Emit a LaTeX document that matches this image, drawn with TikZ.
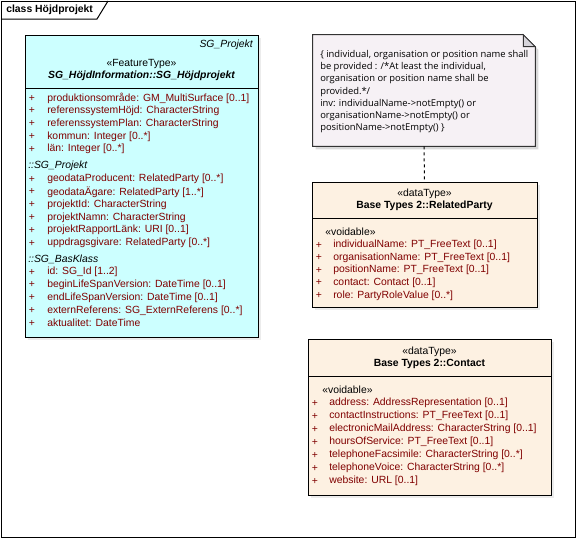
\documentclass[tikz,border=0pt]{standalone}
\usepackage{fontspec}
\setmainfont{Liberation Sans}
\newfontfamily\notefont{Open Sans}
\usepackage{tikz}
\usetikzlibrary{positioning,calc,fit,shadows}

\definecolor{featfill}{HTML}{CCFFFF}
\definecolor{dtfill}{HTML}{FDF1E2}
\definecolor{notefill}{HTML}{F6F1F5}
\definecolor{attrred}{HTML}{800000}
\definecolor{foldgray}{HTML}{D6D4DA}

\begin{document}
\begin{tikzpicture}[
    x=0.75pt, y=-0.75pt,
    font=\fontsize{7.8}{9}\selectfont,
    cls/.style={
        draw=black,
        line width=0.75pt,
        inner sep=0pt,
        drop shadow={shadow xshift=2.25pt, shadow yshift=-2.25pt, opacity=0.15}
    },
    feat/.style={cls, fill=featfill},
    dtype/.style={cls, fill=dtfill},
    hdr/.style={inner sep=0pt},
    attr/.style={anchor=west, inner sep=0pt, text=attrred},
    plus/.style={inner sep=0pt, text=attrred},
    grp/.style={anchor=west, inner sep=0pt, font=\fontsize{7.8}{9}\selectfont\itshape},
    sep/.style={line width=0.75pt}
]
\useasboundingbox (0,0) rectangle (577,540);

% frame
\draw[line width=0.75pt] (1,1) rectangle (575.5,537.5);
\draw[line width=0.75pt] (1,19) -- (97,19) -- (108,1);
\node[anchor=west, inner sep=0pt, font=\fontsize{7.8}{9}\selectfont\bfseries] (title) at (6,10) {class Höjdprojekt};

% feature type
\node[feat, fit={(25,35) (258,337)}] (hojd) {};
\node[hdr, anchor=east, font=\fontsize{7.8}{9}\selectfont\itshape] (hojdpkg) at (253,45) {SG\_Projekt};
\node[hdr] (hojdst) at (141.5,64) {«FeatureType»};
\node[hdr, font=\fontsize{7.8}{9}\selectfont\bfseries\itshape] (hojdname) at (141.5,76) {SG\_HöjdInformation::SG\_Höjdprojekt};
\draw[sep] (25,88) -- (258,88);
\foreach \txt [count=\i from 0] in {
    {produktionsområde: GM\_MultiSurface [0..1]},
    {referenssystemHöjd: CharacterString},
    {referenssystemPlan: CharacterString},
    {kommun: Integer [0..*]},
    {län: Integer [0..*]}}
{
    \node[plus] (hojdP\i) at (32,98+12.8*\i) {+};
    \node[attr] (hojdA\i) at (47,98+12.8*\i) {\txt};
}
\node[grp] (hojdg1) at (28,166) {::SG\_Projekt};
\foreach \txt [count=\i from 0] in {
    {geodataProducent: RelatedParty [0..*]},
    {geodataÄgare: RelatedParty [1..*]},
    {projektId: CharacterString},
    {projektNamn: CharacterString},
    {projektRapportLänk: URI [0..1]},
    {uppdragsgivare: RelatedParty [0..*]}}
{
    \node[plus] (hojdQ\i) at (32,179+12.8*\i) {+};
    \node[attr] (hojdB\i) at (47,179+12.8*\i) {\txt};
}
\node[grp] (hojdg2) at (28,259) {::SG\_BasKlass};
\foreach \txt [count=\i from 0] in {
    {id: SG\_Id [1..2]},
    {beginLifeSpanVersion: DateTime [0..1]},
    {endLifeSpanVersion: DateTime [0..1]},
    {externReferens: SG\_ExternReferens [0..*]},
    {aktualitet: DateTime}}
{
    \node[plus] (hojdR\i) at (32,272+12.8*\i) {+};
    \node[attr] (hojdC\i) at (47,272+12.8*\i) {\txt};
}

% note
\node[inner sep=0pt, fit={(313,35) (535,146)}] (note) {};
\fill[black, opacity=0.15] ($(note.north west)+(3,3)$) -- ($(note.north east)+(-9,3)$)
    -- ($(note.north east)+(3,15)$) -- ($(note.south east)+(3,3)$) -- ($(note.south west)+(3,3)$) -- cycle;
\draw[fill=notefill, line width=0.75pt, draw=black!80] (note.north west) -- ($(note.north east)+(-12,0)$)
    -- ($(note.north east)+(0,12)$) -- (note.south east) -- (note.south west) -- cycle;
\draw[fill=foldgray, line width=0.75pt, draw=black!80] ($(note.north east)+(-12,0)$) -- ($(note.north east)+(-12,12)$)
    -- ($(note.north east)+(0,12)$) -- cycle;
\node[anchor=north west, inner sep=0pt, align=left, font=\notefont\fontsize{7.05}{9.15}\selectfont] (notetext) at (320,50)
{\{ individual, organisation or position name shall\\
be provided : /*At least the individual,\\
organisation or position name shall be\\
provided.*/\\
inv: individualName->notEmpty() or\\
organisationName->notEmpty() or\\
positionName->notEmpty() \}};

% related party
\node[dtype, fit={(312,182) (537,307)}] (rparty) {};
\node[hdr] (rpartyst) at (424.5,194) {«dataType»};
\node[hdr, font=\fontsize{7.8}{9}\selectfont\bfseries] (rpartyname) at (424.5,206) {Base Types 2::RelatedParty};
\draw[sep] (312,218) -- (537,218);
\node[anchor=west, inner sep=0pt] (rpartyvoid) at (325,232) {«voidable»};
\foreach \txt [count=\i from 0] in {
    {individualName: PT\_FreeText [0..1]},
    {organisationName: PT\_FreeText [0..1]},
    {positionName: PT\_FreeText [0..1]},
    {contact: Contact [0..1]},
    {role: PartyRoleValue [0..*]}}
{
    \node[plus] (rpartyP\i) at (319,245+12.6*\i) {+};
    \node[attr] (rpartyA\i) at (333,245+12.6*\i) {\txt};
}

\draw[dashed, dash pattern=on 2.25pt off 2.25pt, line width=0.75pt] (note.south) -- (rparty.north);

% contact
\node[dtype, fit={(308,339) (551,495)}] (contact) {};
\node[hdr] (contactst) at (429.5,352) {«dataType»};
\node[hdr, font=\fontsize{7.8}{9}\selectfont\bfseries] (contactname) at (429.5,364) {Base Types 2::Contact};
\draw[sep] (308,376) -- (551,376);
\node[anchor=west, inner sep=0pt] (contactvoid) at (322,390) {«voidable»};
\foreach \txt [count=\i from 0] in {
    {address: AddressRepresentation [0..1]},
    {contactInstructions: PT\_FreeText [0..1]},
    {electronicMailAddress: CharacterString [0..1]},
    {hoursOfService: PT\_FreeText [0..1]},
    {telephoneFacsimile: CharacterString [0..*]},
    {telephoneVoice: CharacterString [0..*]},
    {website: URL [0..1]}}
{
    \node[plus] (contactP\i) at (315,403+13*\i) {+};
    \node[attr] (contactA\i) at (329,403+13*\i) {\txt};
}

\end{tikzpicture}
\end{document}
